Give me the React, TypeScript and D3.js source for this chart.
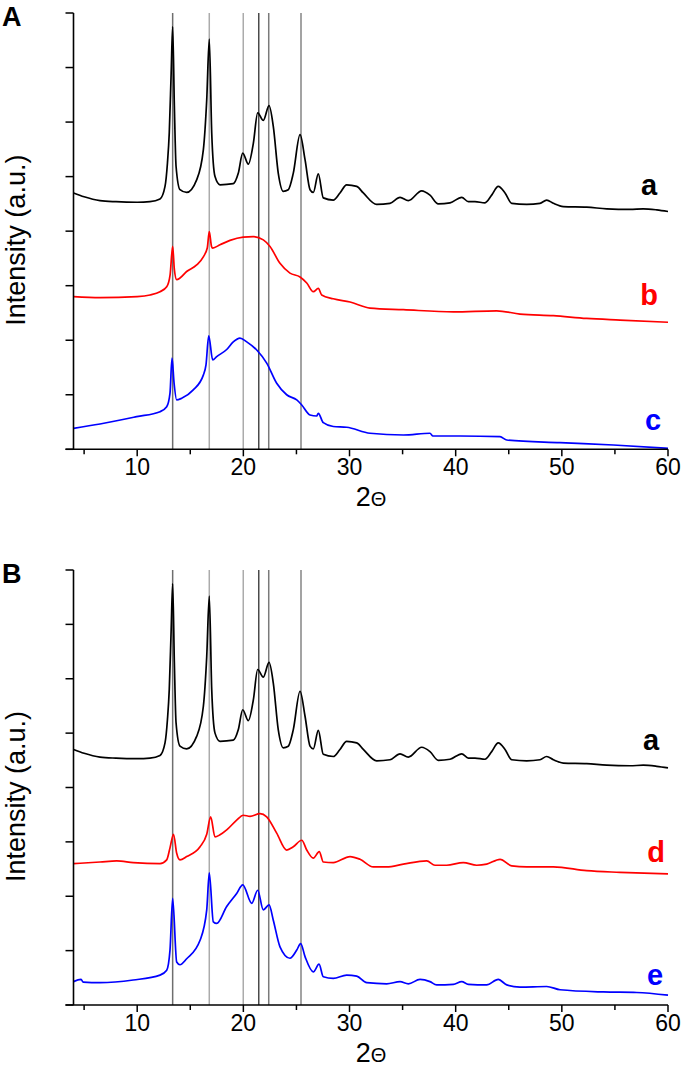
import React from 'react';
import * as d3 from 'd3';

type Pt = [number, number];

// 2θ (deg) vs intensity (a.u., 1 unit = one y tick)
const sampleA: Pt[] = [
  [4.0,4.70],[5.0,4.63],[6.5,4.56],[8.0,4.54],[10.0,4.53],[11.2,4.54],[12.15,4.59],[12.62,4.82],[12.85,5.25],[13.02,5.80],[13.2,6.90],[13.34,7.75],[13.5,6.30],[13.66,5.19],[14.03,4.76],[14.66,4.71],[15.6,4.94],[16.23,5.49],[16.55,6.41],[16.79,7.52],[17.02,5.80],[17.33,5.00],[17.8,4.85],[19.05,4.87],[19.52,5.06],[19.94,5.43],[20.47,5.23],[20.94,5.61],[21.35,6.17],[21.88,6.03],[22.42,6.30],[22.82,5.92],[23.29,5.06],[23.76,4.73],[24.23,4.76],[24.7,5.06],[25.34,5.77],[25.81,5.31],[26.28,4.76],[26.59,4.71],[27.06,5.05],[27.53,4.61],[28.47,4.57],[29.1,4.70],[29.73,4.85],[30.68,4.82],[31.3,4.70],[32.56,4.49],[33.81,4.51],[34.76,4.62],[35.54,4.56],[36.8,4.74],[37.58,4.66],[38.36,4.50],[39.47,4.52],[40.57,4.62],[41.19,4.54],[41.82,4.54],[42.76,4.52],[43.39,4.66],[44.01,4.82],[44.65,4.70],[45.28,4.51],[46.69,4.49],[47.94,4.51],[48.57,4.57],[49.2,4.51],[50.14,4.45],[52.34,4.44],[54.23,4.41],[56.42,4.40],[57.67,4.41],[58.94,4.39],[60,4.36]
];

const sampleB: Pt[] = [
  [4.0,2.80],[6.5,2.78],[10.0,2.80],[11.21,2.83],[12.15,2.89],[12.78,2.98],[13.1,3.20],[13.34,3.72],[13.5,3.30],[13.72,3.11],[14.03,3.14],[14.66,3.26],[15.6,3.38],[16.23,3.53],[16.6,3.69],[16.79,3.99],[17.0,3.72],[17.11,3.69],[17.8,3.75],[18.74,3.83],[19.99,3.89],[20.94,3.90],[21.88,3.84],[22.51,3.72],[23.45,3.41],[24.39,3.23],[25.34,3.16],[25.97,3.05],[26.59,2.89],[27.06,2.95],[27.38,2.83],[28.47,2.76],[30.05,2.70],[31.93,2.59],[35.07,2.56],[39.78,2.52],[43.86,2.54],[46.06,2.48],[49.2,2.45],[52.34,2.40],[55.48,2.37],[60,2.33]
];

const sampleC: Pt[] = [
  [4.0,0.385],[6.5,0.464],[9.95,0.598],[12.15,0.69],[12.78,0.78],[13.09,1.03],[13.28,1.67],[13.47,1.22],[13.72,0.905],[14.19,0.936],[15.28,1.09],[16.23,1.36],[16.48,1.55],[16.74,2.08],[17.11,1.64],[17.49,1.70],[18.43,1.83],[19.05,1.97],[19.68,2.04],[20.32,1.97],[21.26,1.82],[22.2,1.58],[23.14,1.21],[24.08,1.0],[25.03,0.905],[25.5,0.813],[26.28,0.629],[26.91,0.611],[27.06,0.66],[27.53,0.488],[28.47,0.418],[29.73,0.404],[31.93,0.294],[35.07,0.262],[37.58,0.294],[37.86,0.244],[40.41,0.244],[44.18,0.231],[44.81,0.171],[49.83,0.121],[54.85,0.079],[60,0.018]
];

const sampleD: Pt[] = [
  [4.0,2.60],[6.5,2.63],[8.07,2.65],[9.63,2.62],[12.15,2.60],[12.78,2.67],[13.09,2.89],[13.42,3.14],[13.72,2.79],[14.03,2.67],[14.66,2.73],[15.92,2.91],[16.55,3.14],[16.92,3.46],[17.33,3.09],[17.8,3.13],[18.43,3.22],[19.37,3.40],[19.99,3.49],[20.63,3.47],[21.57,3.52],[22.2,3.46],[23.14,3.16],[24.08,2.85],[24.7,2.91],[25.5,3.03],[25.97,2.85],[26.59,2.70],[27.15,2.82],[27.53,2.63],[28.47,2.62],[30.05,2.73],[30.99,2.68],[32.24,2.54],[33.5,2.54],[35.07,2.59],[37.27,2.65],[38.05,2.57],[39.15,2.57],[40.72,2.62],[41.98,2.57],[42.92,2.59],[44.18,2.68],[45.28,2.56],[46.69,2.54],[49.2,2.54],[52.34,2.47],[55.48,2.44],[60,2.41]
];

const sampleE: Pt[] = [
  [4.0,0.43],[4.71,0.47],[4.92,0.42],[6.5,0.41],[9.63,0.46],[12.15,0.55],[12.78,0.64],[13.09,1.01],[13.34,1.96],[13.72,0.79],[14.03,0.74],[14.66,0.85],[15.92,1.19],[16.55,1.75],[16.79,2.43],[17.17,1.53],[17.49,1.50],[18.43,1.81],[19.37,2.05],[19.94,2.21],[20.79,1.87],[21.35,2.11],[21.88,1.75],[22.42,1.84],[22.82,1.56],[23.45,1.07],[24.39,0.86],[25.03,1.01],[25.4,1.13],[25.81,0.89],[26.59,0.61],[27.13,0.75],[27.53,0.52],[28.47,0.49],[29.73,0.55],[30.68,0.53],[31.62,0.41],[33.5,0.39],[34.76,0.43],[35.54,0.39],[36.64,0.47],[37.58,0.43],[38.21,0.37],[39.78,0.38],[40.57,0.43],[41.19,0.38],[42.92,0.37],[44.01,0.47],[44.81,0.37],[46.06,0.33],[48.57,0.34],[49.83,0.28],[53.91,0.24],[57.05,0.23],[60,0.18]
];

const refLines = [13.34, 16.79, 19.99, 21.45, 22.39, 25.43];
const refColors = ['#6e6e6e', '#ababab', '#ababab', '#4a4a4a', '#7a7a7a', '#858585'];

const xMajor = [10, 20, 30, 40, 50, 60];
const xMinor = [5, 15, 25, 35, 45, 55];
const yTicks = [0, 1, 2, 3, 4, 5, 6, 7, 8];

const panelA = {
  letter: 'A',
  series: [
    { name: 'a', data: sampleA, color: '#000000' },
    { name: 'b', data: sampleB, color: '#ff0000' },
    { name: 'c', data: sampleC, color: '#0000ff' },
  ],
};
const panelB = {
  letter: 'B',
  series: [
    { name: 'a', data: sampleA, color: '#000000' },
    { name: 'd', data: sampleD, color: '#ff0000' },
    { name: 'e', data: sampleE, color: '#0000ff' },
  ],
};

const FONT = '"Liberation Sans", Arial, Helvetica, sans-serif';

function Panel({ panel, top, bottom, labelPos }: any) {
  const x = d3.scaleLinear().domain([4, 60]).range([73.5, 668]);
  const y = d3.scaleLinear().domain([0, 8]).range([bottom, top]);
  const line = d3
    .line<Pt>()
    .x((d) => x(d[0]))
    .y((d) => y(d[1]))
    .curve(d3.curveMonotoneX);
  const x0 = x(4);
  return (
    <g>
      {refLines.map((v, i) => (
        <line key={'r' + i} x1={x(v)} x2={x(v)} y1={top} y2={bottom} stroke={refColors[i]} strokeWidth={1.5} />
      ))}
      {panel.series.map((s: any) => (
        <path key={s.name} d={line(s.data) || ''} fill="none" stroke={s.color} strokeWidth={1.7} strokeLinejoin="round" />
      ))}
      <line x1={x0} x2={x0} y1={top} y2={bottom} stroke="#000" strokeWidth={1.6} />
      <line x1={x0 - 8} x2={x(60)} y1={bottom} y2={bottom} stroke="#000" strokeWidth={1.6} />
      {yTicks.map((t) => (
        <line key={'yt' + t} x1={x0 - 8} x2={x0} y1={y(t)} y2={y(t)} stroke="#000" strokeWidth={1.5} />
      ))}
      {xMajor.map((t) => (
        <line key={'xM' + t} x1={x(t)} x2={x(t)} y1={bottom} y2={bottom + 7} stroke="#000" strokeWidth={1.5} />
      ))}
      {xMinor.map((t) => (
        <line key={'xm' + t} x1={x(t)} x2={x(t)} y1={bottom} y2={bottom + 5} stroke="#000" strokeWidth={1.5} />
      ))}
      {xMajor.map((t) => (
        <text key={'xl' + t} x={x(t)} y={bottom + 26} textAnchor="middle" fontSize={23} fontFamily={FONT} fill="#000">
          {t}
        </text>
      ))}
      <text x={371} y={bottom + 57} textAnchor="middle" fontFamily={FONT} fill="#000">
        <tspan fontSize={27}>2</tspan>
        <tspan fontSize={20}>Θ</tspan>
      </text>
      <text
        transform={`translate(25,${(top + bottom) / 2 + 9}) rotate(-90)`}
        textAnchor="middle"
        fontSize={27}
        fontFamily={FONT}
        fill="#000"
      >
        Intensity (a.u.)
      </text>
      <text x={2} y={top + 13} fontSize={27} fontWeight="bold" fontFamily={FONT} fill="#000">
        {panel.letter}
      </text>
      {panel.series.map((s: any, i: number) => (
        <text
          key={'lab' + s.name}
          x={labelPos[i][0]}
          y={labelPos[i][1]}
          textAnchor="middle"
          fontSize={29}
          fontWeight="bold"
          fontFamily={FONT}
          fill={s.color}
        >
          {s.name}
        </text>
      ))}
    </g>
  );
}

export default function App() {
  return (
    <svg
      width={685}
      height={1083}
      viewBox="0 0 685 1083"
      style={{ position: 'absolute', left: 0, top: 0, background: '#fff' }}
    >
      <rect width={685} height={1083} fill="#fff" />
      <Panel panel={panelA} top={13} bottom={449.3} labelPos={[[649, 195], [649, 305], [653, 430]]} />
      <Panel panel={panelB} top={570} bottom={1005} labelPos={[[651, 750], [656, 862], [655, 985]]} />
    </svg>
  );
}
